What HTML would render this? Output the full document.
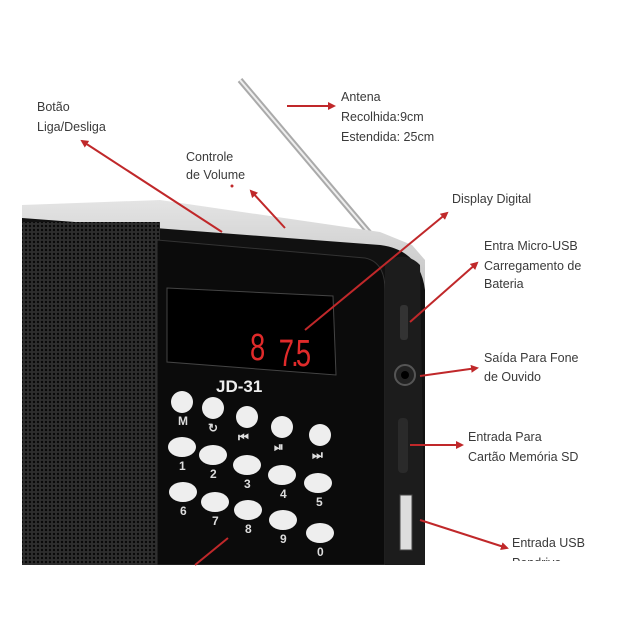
<!DOCTYPE html>
<html><head><style>
body{margin:0;background:#fff;width:629px;height:629px;overflow:hidden}
svg{display:block}
text{font-family:"Liberation Sans",sans-serif;font-size:12.5px;fill:#3a3a3a}
</style></head><body>
<svg width="629" height="629" viewBox="0 0 629 629">
<defs>
<pattern id="grill" width="4" height="4" patternUnits="userSpaceOnUse"><rect width="4" height="4" fill="#2e2e2e"/><circle cx="2" cy="2" r="1.2" fill="#080808"/></pattern>
<linearGradient id="top" x1="0" y1="0" x2="0" y2="1"><stop offset="0" stop-color="#e4e4e4"/><stop offset="1" stop-color="#666"/></linearGradient>
<marker id="ah" markerWidth="8" markerHeight="8" refX="6" refY="4" orient="auto" markerUnits="userSpaceOnUse"><path d="M0,0 L8,4 L0,8 Z" fill="#c0282a"/></marker>
</defs>
<line x1="240" y1="80" x2="372" y2="236" stroke="#aaa" stroke-width="6"/>
<line x1="240" y1="80" x2="372" y2="236" stroke="#eee" stroke-width="2"/>
<path d="M22 205 L160 200 L380 232 L412 245 L425 260 L425 565 L22 565 Z" fill="url(#top)"/>
<path d="M22 218 L380 245 Q420 250 425 290 L425 565 L22 565 Z" fill="#111"/>
<rect x="22" y="222" width="138" height="343" fill="url(#grill)"/>
<path d="M157 240 L365 258 Q385 262 385 290 L385 565 L157 565 Z" fill="#0b0b0b" stroke="#333"/>
<path d="M385 262 Q405 250 420 265 L425 565 L385 565 Z" fill="#1c1c1c"/>
<rect x="400" y="305" width="8" height="35" rx="3" fill="#333"/>
<circle cx="405" cy="375" r="10" fill="#222" stroke="#555" stroke-width="2"/>
<circle cx="405" cy="375" r="4" fill="#000"/>
<rect x="398" y="418" width="10" height="55" rx="4" fill="#2a2a2a"/>
<rect x="400" y="495" width="12" height="55" fill="#ddd" stroke="#444"/>
<path d="M167 288 L333 296 L336 375 L167 362 Z" fill="#000" stroke="#444"/>
<g transform="translate(250,0) scale(0.72,1)">
<text x="0" y="360" style="font-size:38px;fill:#e02a2a;font-family:'Liberation Sans',sans-serif">8</text>
<text x="40" y="366" style="font-size:38px;fill:#e02a2a;font-family:'Liberation Sans',sans-serif;letter-spacing:-4px">7.5</text>
</g>
<text x="216" y="392" style="font-size:17px;font-weight:bold;fill:#eee">JD-31</text>
<g fill="#eee">
<circle cx="182" cy="402" r="11"/><circle cx="213" cy="408" r="11"/><circle cx="247" cy="417" r="11"/><circle cx="282" cy="427" r="11"/><circle cx="320" cy="435" r="11"/>
<ellipse cx="182" cy="447" rx="14" ry="10"/><ellipse cx="213" cy="455" rx="14" ry="10"/><ellipse cx="247" cy="465" rx="14" ry="10"/><ellipse cx="282" cy="475" rx="14" ry="10"/><ellipse cx="318" cy="483" rx="14" ry="10"/>
<ellipse cx="183" cy="492" rx="14" ry="10"/><ellipse cx="215" cy="502" rx="14" ry="10"/><ellipse cx="248" cy="510" rx="14" ry="10"/><ellipse cx="283" cy="520" rx="14" ry="10"/><ellipse cx="320" cy="533" rx="14" ry="10"/>
</g>
<g>
<text x="178" y="425" style="font-size:12px;font-weight:bold;fill:#ddd">M</text><text x="208" y="432" style="font-size:12px;font-weight:bold;fill:#ddd">↻</text><text x="238" y="441" style="font-size:12px;font-weight:bold;fill:#ddd">⏮</text><text x="274" y="451" style="font-size:12px;font-weight:bold;fill:#ddd">⏯</text><text x="312" y="459" style="font-size:12px;font-weight:bold;fill:#ddd">⏭</text>
<text x="179" y="470" style="font-size:12px;font-weight:bold;fill:#ddd">1</text><text x="210" y="478" style="font-size:12px;font-weight:bold;fill:#ddd">2</text><text x="244" y="488" style="font-size:12px;font-weight:bold;fill:#ddd">3</text><text x="280" y="498" style="font-size:12px;font-weight:bold;fill:#ddd">4</text><text x="316" y="506" style="font-size:12px;font-weight:bold;fill:#ddd">5</text>
<text x="180" y="515" style="font-size:12px;font-weight:bold;fill:#ddd">6</text><text x="212" y="525" style="font-size:12px;font-weight:bold;fill:#ddd">7</text><text x="245" y="533" style="font-size:12px;font-weight:bold;fill:#ddd">8</text><text x="280" y="543" style="font-size:12px;font-weight:bold;fill:#ddd">9</text><text x="317" y="556" style="font-size:12px;font-weight:bold;fill:#ddd">0</text>
</g>
<rect x="0" y="565" width="629" height="64" fill="#fff"/>
<g stroke="#c0282a" stroke-width="2" fill="none" marker-end="url(#ah)">
<line x1="222" y1="232" x2="82" y2="141"/>
<line x1="285" y1="228" x2="251" y2="191"/>
<line x1="287" y1="106" x2="334" y2="106"/>
<line x1="305" y1="330" x2="447" y2="213"/>
<line x1="410" y1="322" x2="477" y2="263"/>
<line x1="420" y1="376" x2="477" y2="368"/>
<line x1="410" y1="445" x2="462" y2="445"/>
<line x1="420" y1="520" x2="507" y2="548"/>
</g>
<line x1="195" y1="565" x2="228" y2="538" stroke="#c0282a" stroke-width="2"/>
<circle cx="232" cy="186" r="1.5" fill="#c0282a"/>
<text x="37" y="111">Botão</text><text x="37" y="131">Liga/Desliga</text>
<text x="186" y="161">Controle</text><text x="186" y="179">de Volume</text>
<text x="341" y="101">Antena</text><text x="341" y="121">Recolhida:9cm</text><text x="341" y="141">Estendida:  25cm</text>
<text x="452" y="203">Display Digital</text>
<text x="484" y="250">Entra Micro-USB</text><text x="484" y="270">Carregamento de</text><text x="484" y="288">Bateria</text>
<text x="484" y="362">Saída Para Fone</text><text x="484" y="381">de Ouvido</text>
<text x="468" y="441">Entrada Para</text><text x="468" y="461">Cartão Memória SD</text>
<text x="512" y="547">Entrada USB</text>
<svg x="0" y="0" width="629" height="561"><text x="512" y="567">Pendrive</text></svg>
</svg>
</body></html>
